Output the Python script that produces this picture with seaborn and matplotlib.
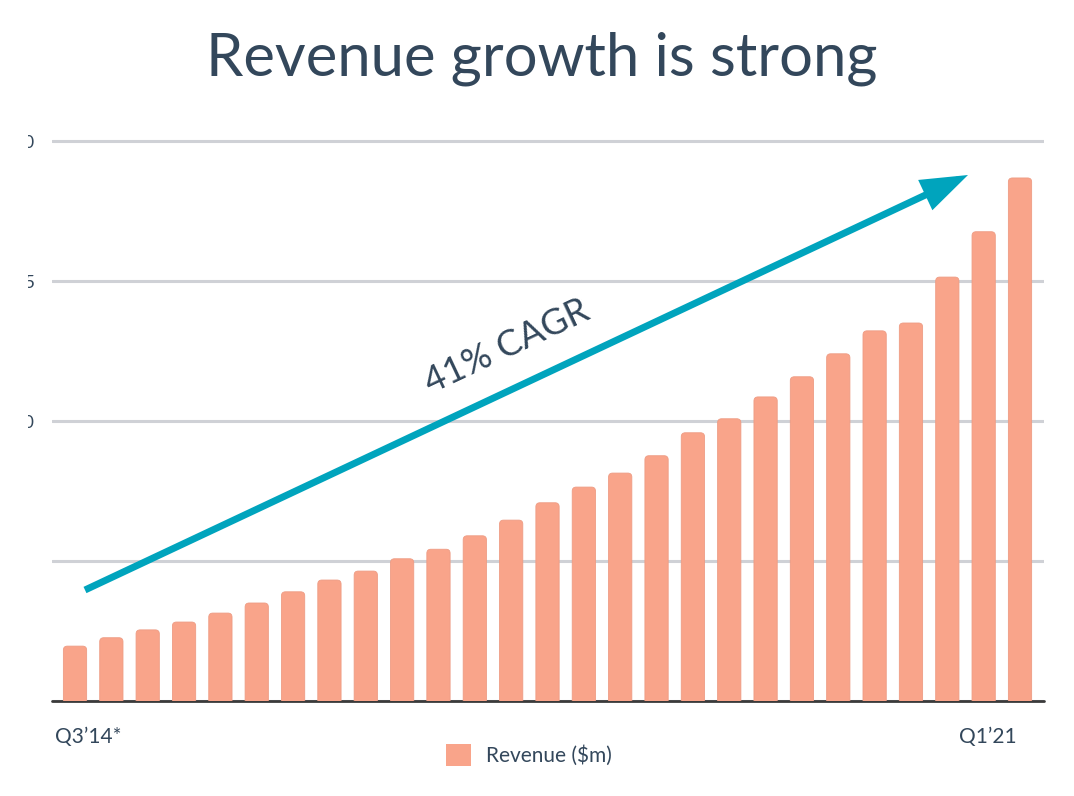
import matplotlib
matplotlib.use("Agg")
import matplotlib.pyplot as plt
from matplotlib.patches import FancyBboxPatch, Rectangle, Patch
import pandas as pd
import seaborn as sns

# ---------------- data ----------------
quarters = ["Q3’14", "Q4’14", "Q1’15", "Q2’15", "Q3’15", "Q4’15", "Q1’16", "Q2’16",
            "Q3’16", "Q4’16", "Q1’17", "Q2’17", "Q3’17", "Q4’17", "Q1’18", "Q2’18",
            "Q3’18", "Q4’18", "Q1’19", "Q2’19", "Q3’19", "Q4’19", "Q1’20", "Q2’20",
            "Q3’20", "Q4’20", "Q1’21"]
revenue = [9.8, 11.3, 12.7, 14.1, 15.7, 17.5, 19.5, 21.6, 23.2, 25.4, 27.1, 29.5,
           32.3, 35.4, 38.2, 40.7, 43.8, 47.9, 50.4, 54.3, 57.9, 62.0, 66.1, 67.5,
           75.7, 83.8, 93.4]
ytick_values = [0, 25, 50, 75, 100]
ytick_labels = ["", "", "50", "75", "100"]
first_label = "Q3’14*"
last_label = "Q1’21"
title_text = "Revenue growth is strong"
cagr_text = "41% CAGR"
legend_label = "Revenue ($m)"

BAR = "#F9A48A"
TEXT = "#33475B"
ARROW = "#00A4BD"
GRID = "#CFD1D6"

sns.set_theme(style="white")
plt.rcParams["font.family"] = ["Lato", "DejaVu Sans"]

W, H = 1074, 796
def fx(x): return x / W
def fy(y): return 1 - y / H

fig = plt.figure(figsize=(W / 100, H / 100), dpi=100)
fig.patch.set_facecolor("white")
ax = fig.add_axes([fx(52), fy(701), (1044 - 52) / W, (701 - 129.8) / H])

df = pd.DataFrame({"quarter": quarters, "revenue": revenue})
sns.barplot(data=df, x="quarter", y="revenue", color=BAR, saturation=1,
            width=0.64, ax=ax)

# rounded tops: rebuild each seaborn bar as a rounded box of the same geometry
n = len(quarters)
ax.set_xlim(-0.633, n - 1 + 0.66)
ax.set_ylim(0, 102)
px_per_x = (1044 - 52) / (ax.get_xlim()[1] - ax.get_xlim()[0])
px_per_y = (701 - 129.8) / 102
r_x = 4 / px_per_x
r_y = 4 / px_per_y
for p in list(ax.patches):
    x, y, w, h = p.get_x(), p.get_y(), p.get_width(), p.get_height()
    p.remove()
    ax.add_patch(FancyBboxPatch((x, y - r_y), w, h + r_y,
                                boxstyle=f"round,pad=0,rounding_size={r_x}",
                                mutation_aspect=r_y / r_x,
                                facecolor=BAR, edgecolor="#EE9C84", lw=0.6,
                                zorder=2))

ax.set_yticks(ytick_values)
ax.set_yticklabels(ytick_labels)
ax.grid(axis="y", color=GRID, lw=2.2)
ax.grid(axis="x", visible=False)
ax.set_axisbelow(True)
for s in ax.spines.values():
    s.set_visible(False)
ax.axhline(0, color="#3A3A3A", lw=2, zorder=1, clip_on=False)
ax.tick_params(axis="y", length=0, pad=12.2, labelsize=13, labelcolor=TEXT)
ax.tick_params(axis="x", length=0, labelbottom=False)
ax.set_xlabel("")
ax.set_ylabel("")

# end-point category labels
fig.text(fx(55), fy(743), first_label, ha="left", va="baseline",
         fontsize=15, color=TEXT)
fig.text(fx(1017), fy(743), last_label, ha="right", va="baseline",
         fontsize=15, color=TEXT)

# title
fig.text(fx(542), fy(75), title_text, ha="center", va="baseline",
         fontsize=43, color=TEXT)

# CAGR arrow + label
ax.annotate("", xy=(fx(968), fy(175)), xytext=(fx(85), fy(590)),
            xycoords="figure fraction", textcoords="figure fraction",
            arrowprops=dict(arrowstyle="-|>,head_length=2.4,head_width=0.85",
                            mutation_scale=10, lw=5, color=ARROW,
                            shrinkA=0, shrinkB=0, joinstyle="miter",
                            capstyle="butt"),
            annotation_clip=False, zorder=5)
fig.text(fx(507), fy(347), cagr_text, ha="center", va="center",
         rotation=25.2, rotation_mode="anchor", fontsize=26, color=TEXT)

# legend
fig.legend(handles=[Patch(facecolor=BAR, edgecolor="none", label=legend_label)],
           loc="center", bbox_to_anchor=(fx(529), fy(755)), frameon=False,
           fontsize=15, handlelength=1.2, handleheight=1.2, handletextpad=0.7,
           borderpad=0, labelcolor=TEXT)

# left edge of the slide is cropped in the reference
fig.add_artist(Rectangle((0, 0), fx(28), 1, transform=fig.transFigure,
                         facecolor="white", edgecolor="none", zorder=20))

fig.savefig("out.png", dpi=100, facecolor="white")
